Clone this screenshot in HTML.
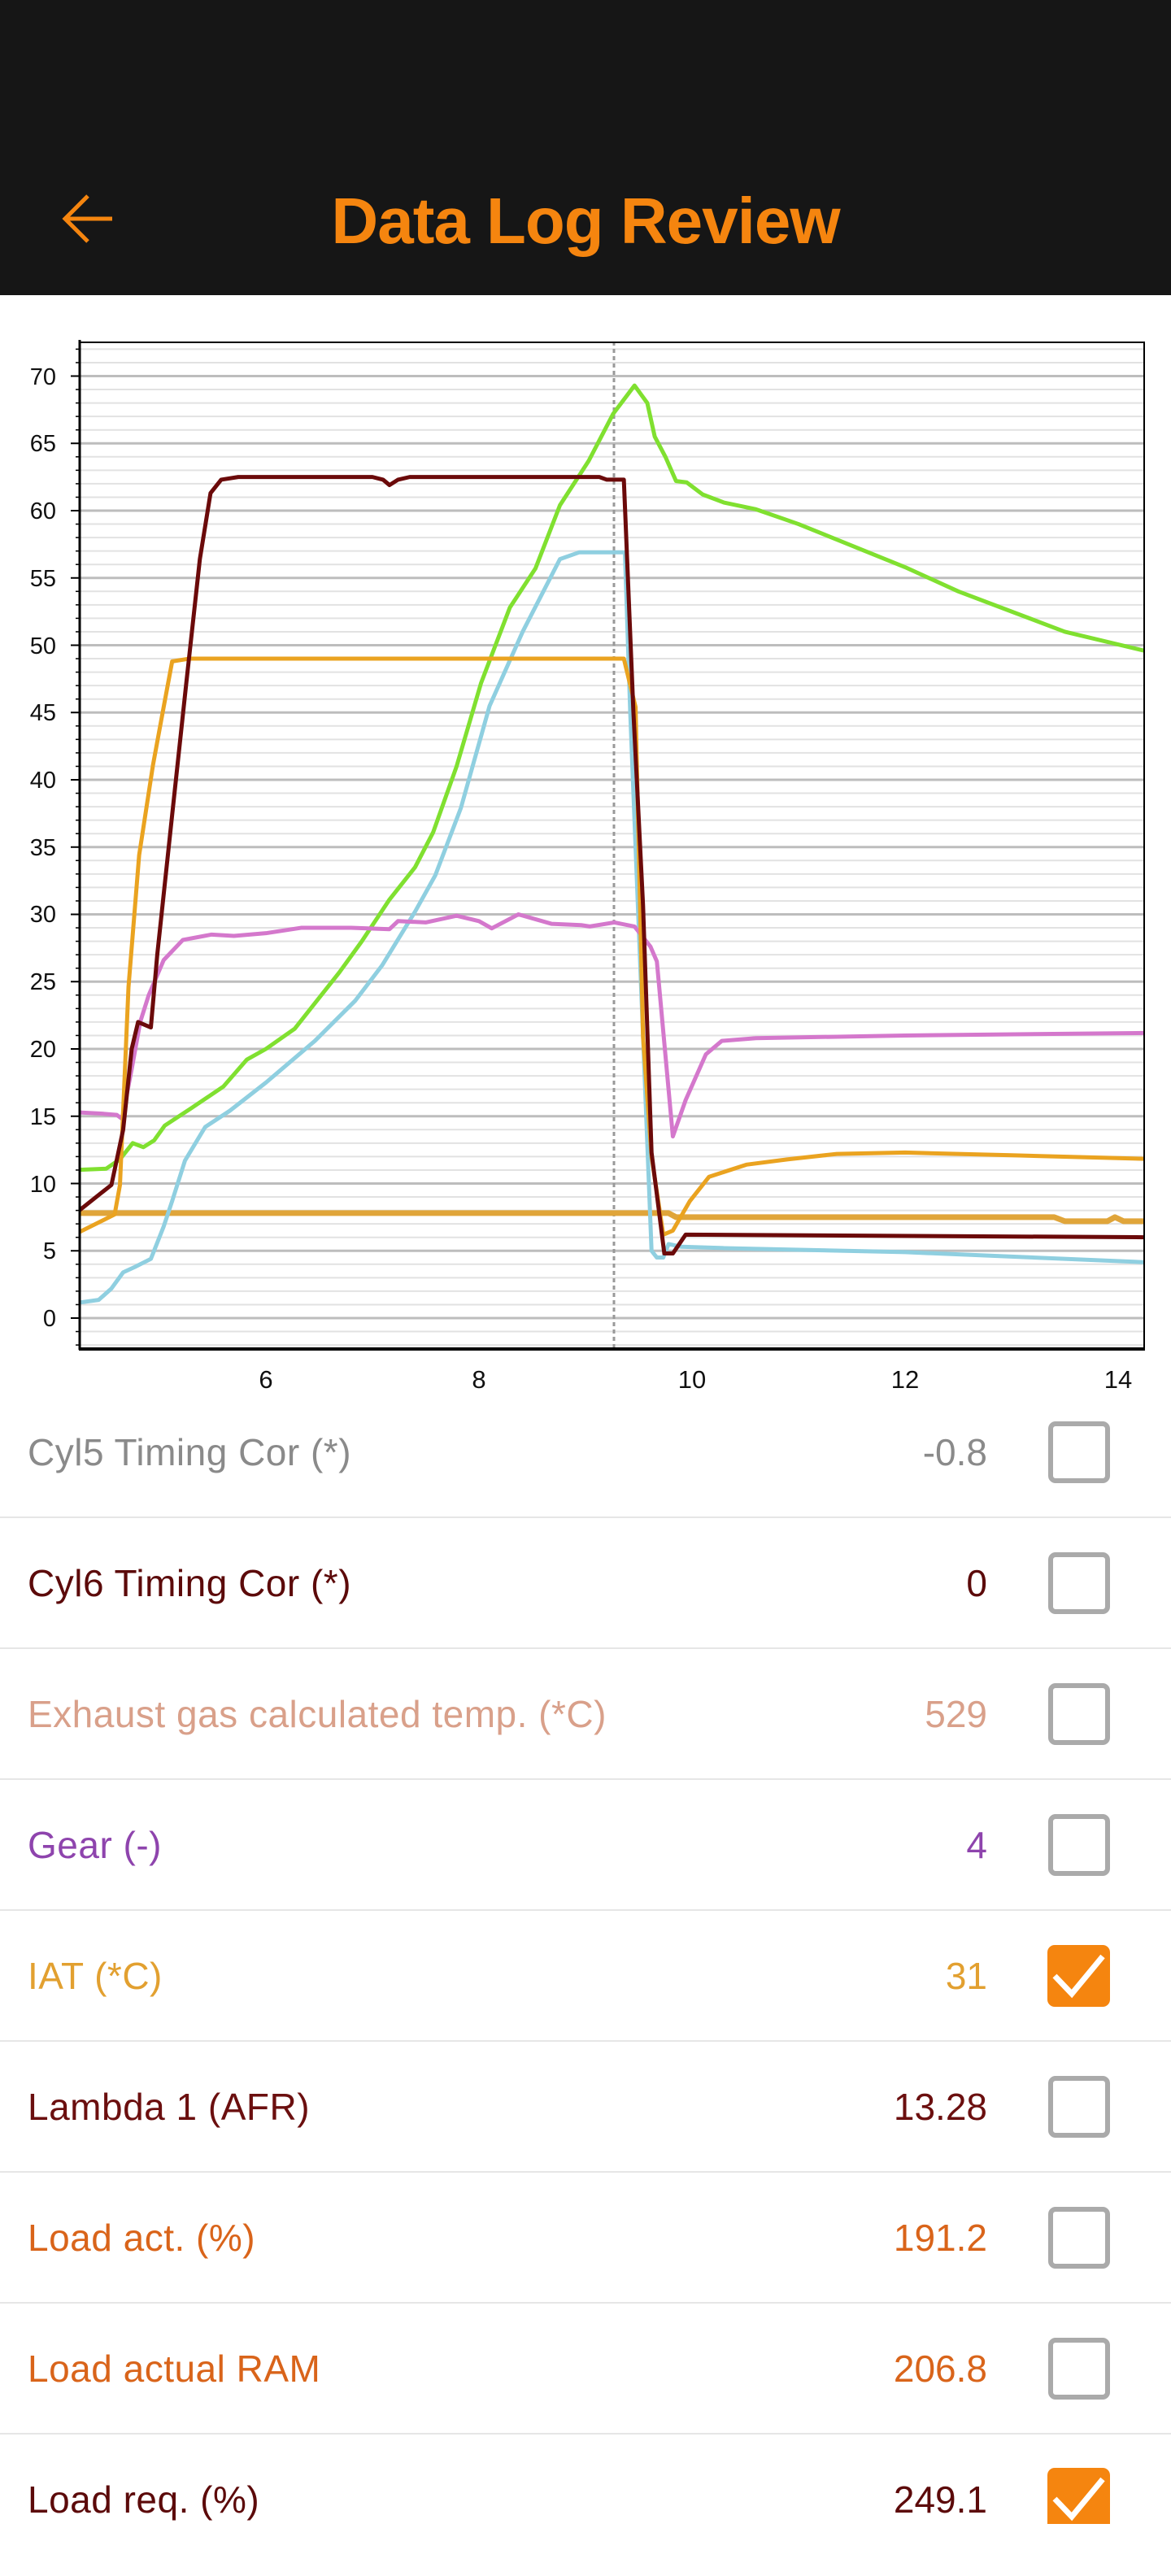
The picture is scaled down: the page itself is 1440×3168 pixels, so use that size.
<!DOCTYPE html>
<html><head><meta charset="utf-8"><style>
html,body{margin:0;padding:0;background:#fff;}
body{width:1440px;height:3168px;position:relative;overflow:hidden;font-family:"Liberation Sans",sans-serif;}
.hdr{position:absolute;left:0;top:0;width:1440px;height:363px;background:#161616;}
.title{position:absolute;left:0;width:1440px;top:222px;text-align:center;font-weight:bold;font-size:80px;letter-spacing:-1px;color:#F5850F;line-height:100px;}
.sep{position:absolute;left:0;width:1440px;height:2px;background:#e6e6e6;}
.lab{position:absolute;left:34px;font-size:46px;letter-spacing:0.5px;line-height:60px;white-space:nowrap;}
.val{position:absolute;right:226px;font-size:46px;line-height:60px;text-align:right;white-space:nowrap;}
.cb{position:absolute;left:1289px;width:64px;height:64px;border:6px solid #aaa;border-radius:9px;background:#fff;}
.cbon{position:absolute;left:1288px;width:77px;height:76px;border-radius:9px;background:#F5850F;}
</style></head><body>
<div class="hdr"></div>
<svg style="position:absolute;left:0;top:0" width="200" height="363"><polyline points="108,241 80,269 108,297" fill="none" stroke="#F5850F" stroke-width="5"/><line x1="80" y1="269" x2="138" y2="269" stroke="#F5850F" stroke-width="5"/></svg>
<div class="title">Data Log Review</div>

<svg style="position:absolute;left:0;top:363px" width="1440" height="1380" viewBox="0 363 1440 1380">
<defs><clipPath id="c"><rect x="98" y="420" width="1310" height="1239"/></clipPath></defs>
<g stroke="#e2e2e2" stroke-width="2">
<line x1="98" x2="1408" y1="1654.1" y2="1654.1"/><line x1="98" x2="1408" y1="1637.55" y2="1637.55"/>
<line x1="98" x2="1408" y1="1604.45" y2="1604.45"/><line x1="98" x2="1408" y1="1587.9" y2="1587.9"/><line x1="98" x2="1408" y1="1571.35" y2="1571.35"/><line x1="98" x2="1408" y1="1554.8" y2="1554.8"/>
<line x1="98" x2="1408" y1="1521.7" y2="1521.7"/><line x1="98" x2="1408" y1="1505.15" y2="1505.15"/><line x1="98" x2="1408" y1="1488.6" y2="1488.6"/><line x1="98" x2="1408" y1="1472.05" y2="1472.05"/>
<line x1="98" x2="1408" y1="1438.95" y2="1438.95"/><line x1="98" x2="1408" y1="1422.4" y2="1422.4"/><line x1="98" x2="1408" y1="1405.85" y2="1405.85"/><line x1="98" x2="1408" y1="1389.3" y2="1389.3"/>
<line x1="98" x2="1408" y1="1356.2" y2="1356.2"/><line x1="98" x2="1408" y1="1339.65" y2="1339.65"/><line x1="98" x2="1408" y1="1323.1" y2="1323.1"/><line x1="98" x2="1408" y1="1306.55" y2="1306.55"/>
<line x1="98" x2="1408" y1="1273.45" y2="1273.45"/><line x1="98" x2="1408" y1="1256.9" y2="1256.9"/><line x1="98" x2="1408" y1="1240.35" y2="1240.35"/><line x1="98" x2="1408" y1="1223.8" y2="1223.8"/>
<line x1="98" x2="1408" y1="1190.7" y2="1190.7"/><line x1="98" x2="1408" y1="1174.15" y2="1174.15"/><line x1="98" x2="1408" y1="1157.6" y2="1157.6"/><line x1="98" x2="1408" y1="1141.05" y2="1141.05"/>
<line x1="98" x2="1408" y1="1107.95" y2="1107.95"/><line x1="98" x2="1408" y1="1091.4" y2="1091.4"/><line x1="98" x2="1408" y1="1074.85" y2="1074.85"/><line x1="98" x2="1408" y1="1058.3" y2="1058.3"/>
<line x1="98" x2="1408" y1="1025.2" y2="1025.2"/><line x1="98" x2="1408" y1="1008.65" y2="1008.65"/><line x1="98" x2="1408" y1="992.1" y2="992.1"/><line x1="98" x2="1408" y1="975.55" y2="975.55"/>
<line x1="98" x2="1408" y1="942.45" y2="942.45"/><line x1="98" x2="1408" y1="925.9" y2="925.9"/><line x1="98" x2="1408" y1="909.35" y2="909.35"/><line x1="98" x2="1408" y1="892.8" y2="892.8"/>
<line x1="98" x2="1408" y1="859.7" y2="859.7"/><line x1="98" x2="1408" y1="843.15" y2="843.15"/><line x1="98" x2="1408" y1="826.6" y2="826.6"/><line x1="98" x2="1408" y1="810.05" y2="810.05"/>
<line x1="98" x2="1408" y1="776.95" y2="776.95"/><line x1="98" x2="1408" y1="760.4" y2="760.4"/><line x1="98" x2="1408" y1="743.85" y2="743.85"/><line x1="98" x2="1408" y1="727.3" y2="727.3"/>
<line x1="98" x2="1408" y1="694.2" y2="694.2"/><line x1="98" x2="1408" y1="677.65" y2="677.65"/><line x1="98" x2="1408" y1="661.1" y2="661.1"/><line x1="98" x2="1408" y1="644.55" y2="644.55"/>
<line x1="98" x2="1408" y1="611.45" y2="611.45"/><line x1="98" x2="1408" y1="594.9" y2="594.9"/><line x1="98" x2="1408" y1="578.35" y2="578.35"/><line x1="98" x2="1408" y1="561.8" y2="561.8"/>
<line x1="98" x2="1408" y1="528.7" y2="528.7"/><line x1="98" x2="1408" y1="512.15" y2="512.15"/><line x1="98" x2="1408" y1="495.6" y2="495.6"/><line x1="98" x2="1408" y1="479.05" y2="479.05"/>
<line x1="98" x2="1408" y1="445.95" y2="445.95"/><line x1="98" x2="1408" y1="429.4" y2="429.4"/>
</g>
<g stroke="#bdbdbd" stroke-width="3">
<line x1="98" x2="1408" y1="1621" y2="1621"/><line x1="98" x2="1408" y1="1538.25" y2="1538.25"/><line x1="98" x2="1408" y1="1455.5" y2="1455.5"/><line x1="98" x2="1408" y1="1372.75" y2="1372.75"/><line x1="98" x2="1408" y1="1290" y2="1290"/><line x1="98" x2="1408" y1="1207.25" y2="1207.25"/><line x1="98" x2="1408" y1="1124.5" y2="1124.5"/><line x1="98" x2="1408" y1="1041.75" y2="1041.75"/><line x1="98" x2="1408" y1="959" y2="959"/><line x1="98" x2="1408" y1="876.25" y2="876.25"/><line x1="98" x2="1408" y1="793.5" y2="793.5"/><line x1="98" x2="1408" y1="710.75" y2="710.75"/><line x1="98" x2="1408" y1="628" y2="628"/><line x1="98" x2="1408" y1="545.25" y2="545.25"/><line x1="98" x2="1408" y1="462.5" y2="462.5"/>
</g>
<g font-family="Liberation Sans, sans-serif" font-size="29" fill="#111" text-anchor="end">
<text x="69" y="1631">0</text><text x="69" y="1548">5</text><text x="69" y="1466">10</text><text x="69" y="1383">15</text><text x="69" y="1300">20</text><text x="69" y="1217">25</text><text x="69" y="1134">30</text><text x="69" y="1052">35</text><text x="69" y="969">40</text><text x="69" y="886">45</text><text x="69" y="804">50</text><text x="69" y="721">55</text><text x="69" y="638">60</text><text x="69" y="555">65</text><text x="69" y="473">70</text>
</g>
<g font-family="Liberation Sans, sans-serif" font-size="31" fill="#111" text-anchor="middle">
<text x="327" y="1707">6</text><text x="589" y="1707">8</text><text x="851" y="1707">10</text><text x="1113" y="1707">12</text><text x="1375" y="1707">14</text>
</g>
<line x1="755" y1="420" x2="755" y2="1659" stroke="#999" stroke-width="3" stroke-dasharray="5 4"/>
<g clip-path="url(#c)" fill="none" stroke-linejoin="round">
<g transform="matrix(131,0,0,-16.55,-459,1621)">
<polyline vector-effect="non-scaling-stroke" stroke="#E0A53A" stroke-width="7" points="4.2,7.8 9.78,7.8 9.85,7.5 13.4,7.5 13.5,7.2 13.9,7.2 13.97,7.5 14.05,7.2 14.4,7.2"/>
<polyline vector-effect="non-scaling-stroke" stroke="#8FCFE0" stroke-width="5" points="4.2,1.1 4.43,1.35 4.55,2.2 4.66,3.4 4.77,3.8 4.92,4.4 5.04,6.8 5.12,8.7 5.24,11.7 5.43,14.2 5.66,15.4 6.0,17.5 6.46,20.6 6.84,23.6 7.09,26.2 7.4,30.2 7.59,32.9 7.83,37.9 8.1,45.5 8.41,51 8.76,56.4 8.94,56.9 9.37,56.9 9.42,45 9.52,25 9.62,5 9.67,4.5 9.73,4.5 9.78,5.5 9.9,5.3 10.3,5.2 12,4.9 14.4,4.1"/>
<polyline vector-effect="non-scaling-stroke" stroke="#80E030" stroke-width="5" points="4.2,11 4.5,11.1 4.63,11.8 4.75,13 4.85,12.7 4.95,13.2 5.05,14.3 5.3,15.6 5.6,17.2 5.82,19.2 6.0,20 6.27,21.5 6.69,25.7 6.9,28 7.16,31.1 7.4,33.5 7.57,36.1 7.79,41 8.02,47.2 8.29,52.8 8.53,55.7 8.76,60.4 9.03,63.7 9.26,67.2 9.46,69.3 9.58,68 9.65,65.5 9.75,64 9.85,62.2 9.95,62.1 10.1,61.2 10.3,60.6 10.6,60.1 11,59 11.5,57.4 12,55.8 12.5,54 13,52.5 13.5,51 14.4,49.3"/>
<polyline vector-effect="non-scaling-stroke" stroke="#D478CC" stroke-width="5" points="4.2,15.3 4.45,15.2 4.6,15.1 4.65,14.8 4.74,18.5 4.82,22 4.9,24 5.04,26.6 5.22,28.1 5.49,28.5 5.7,28.4 6.0,28.6 6.33,29 6.8,29 7.16,28.9 7.24,29.5 7.5,29.4 7.79,29.9 8.0,29.5 8.12,28.96 8.37,30 8.68,29.3 8.96,29.2 9.04,29.1 9.27,29.4 9.46,29.1 9.61,27.6 9.67,26.5 9.82,13.5 9.94,16.2 10.13,19.6 10.28,20.6 10.6,20.8 12,21 14.4,21.2"/>
<polyline vector-effect="non-scaling-stroke" stroke="#EAA320" stroke-width="5" points="4.2,6.2 4.58,7.7 4.63,9.9 4.71,24.6 4.81,34.4 4.94,41.1 5.04,45.4 5.12,48.8 5.28,49 7,49 8,49 9.36,49 9.47,45.4 9.54,20.9 9.62,12 9.73,6.2 9.82,6.5 9.98,8.7 10.16,10.5 10.51,11.4 10.9,11.8 11.36,12.2 12,12.3 13,12.1 14.4,11.8"/>
<polyline vector-effect="non-scaling-stroke" stroke="#6B0A0A" stroke-width="5" points="4.2,7.7 4.55,9.9 4.66,14 4.74,20 4.8,22 4.92,21.6 4.98,27 5.12,37.4 5.25,47 5.38,56.4 5.48,61.3 5.58,62.3 5.74,62.5 7.0,62.5 7.1,62.3 7.16,61.9 7.24,62.3 7.35,62.5 9.13,62.5 9.2,62.3 9.36,62.3 9.45,45 9.54,30.7 9.62,12.3 9.74,4.8 9.82,4.8 9.94,6.2 14.4,6.0"/>
</g>
</g>
<g stroke="#000">
<line x1="98" y1="421" x2="1408" y2="421" stroke-width="2"/>
<line x1="1407" y1="420" x2="1407" y2="1659" stroke-width="2"/>
<line x1="98" y1="418" x2="98" y2="1660" stroke-width="3"/>
<line x1="97" y1="1659" x2="1408" y2="1659" stroke-width="4"/>
</g>
<g stroke="#000" stroke-width="2">
<line x1="87" x2="98" y1="1621" y2="1621"/><line x1="87" x2="98" y1="1538.25" y2="1538.25"/><line x1="87" x2="98" y1="1455.5" y2="1455.5"/><line x1="87" x2="98" y1="1372.75" y2="1372.75"/><line x1="87" x2="98" y1="1290" y2="1290"/><line x1="87" x2="98" y1="1207.25" y2="1207.25"/><line x1="87" x2="98" y1="1124.5" y2="1124.5"/><line x1="87" x2="98" y1="1041.75" y2="1041.75"/><line x1="87" x2="98" y1="959" y2="959"/><line x1="87" x2="98" y1="876.25" y2="876.25"/><line x1="87" x2="98" y1="793.5" y2="793.5"/><line x1="87" x2="98" y1="710.75" y2="710.75"/><line x1="87" x2="98" y1="628" y2="628"/><line x1="87" x2="98" y1="545.25" y2="545.25"/><line x1="87" x2="98" y1="462.5" y2="462.5"/>
</g>
<g stroke="#000" stroke-width="1.5">
<line x1="93" x2="98" y1="1654.1" y2="1654.1"/><line x1="93" x2="98" y1="1637.55" y2="1637.55"/><line x1="93" x2="98" y1="1604.45" y2="1604.45"/><line x1="93" x2="98" y1="1587.9" y2="1587.9"/><line x1="93" x2="98" y1="1571.35" y2="1571.35"/><line x1="93" x2="98" y1="1554.8" y2="1554.8"/><line x1="93" x2="98" y1="1521.7" y2="1521.7"/><line x1="93" x2="98" y1="1505.15" y2="1505.15"/><line x1="93" x2="98" y1="1488.6" y2="1488.6"/><line x1="93" x2="98" y1="1472.05" y2="1472.05"/><line x1="93" x2="98" y1="1438.95" y2="1438.95"/><line x1="93" x2="98" y1="1422.4" y2="1422.4"/><line x1="93" x2="98" y1="1405.85" y2="1405.85"/><line x1="93" x2="98" y1="1389.3" y2="1389.3"/><line x1="93" x2="98" y1="1356.2" y2="1356.2"/><line x1="93" x2="98" y1="1339.65" y2="1339.65"/><line x1="93" x2="98" y1="1323.1" y2="1323.1"/><line x1="93" x2="98" y1="1306.55" y2="1306.55"/><line x1="93" x2="98" y1="1273.45" y2="1273.45"/><line x1="93" x2="98" y1="1256.9" y2="1256.9"/><line x1="93" x2="98" y1="1240.35" y2="1240.35"/><line x1="93" x2="98" y1="1223.8" y2="1223.8"/><line x1="93" x2="98" y1="1190.7" y2="1190.7"/><line x1="93" x2="98" y1="1174.15" y2="1174.15"/><line x1="93" x2="98" y1="1157.6" y2="1157.6"/><line x1="93" x2="98" y1="1141.05" y2="1141.05"/><line x1="93" x2="98" y1="1107.95" y2="1107.95"/><line x1="93" x2="98" y1="1091.4" y2="1091.4"/><line x1="93" x2="98" y1="1074.85" y2="1074.85"/><line x1="93" x2="98" y1="1058.3" y2="1058.3"/><line x1="93" x2="98" y1="1025.2" y2="1025.2"/><line x1="93" x2="98" y1="1008.65" y2="1008.65"/><line x1="93" x2="98" y1="992.1" y2="992.1"/><line x1="93" x2="98" y1="975.55" y2="975.55"/><line x1="93" x2="98" y1="942.45" y2="942.45"/><line x1="93" x2="98" y1="925.9" y2="925.9"/><line x1="93" x2="98" y1="909.35" y2="909.35"/><line x1="93" x2="98" y1="892.8" y2="892.8"/><line x1="93" x2="98" y1="859.7" y2="859.7"/><line x1="93" x2="98" y1="843.15" y2="843.15"/><line x1="93" x2="98" y1="826.6" y2="826.6"/><line x1="93" x2="98" y1="810.05" y2="810.05"/><line x1="93" x2="98" y1="776.95" y2="776.95"/><line x1="93" x2="98" y1="760.4" y2="760.4"/><line x1="93" x2="98" y1="743.85" y2="743.85"/><line x1="93" x2="98" y1="727.3" y2="727.3"/><line x1="93" x2="98" y1="694.2" y2="694.2"/><line x1="93" x2="98" y1="677.65" y2="677.65"/><line x1="93" x2="98" y1="661.1" y2="661.1"/><line x1="93" x2="98" y1="644.55" y2="644.55"/><line x1="93" x2="98" y1="611.45" y2="611.45"/><line x1="93" x2="98" y1="594.9" y2="594.9"/><line x1="93" x2="98" y1="578.35" y2="578.35"/><line x1="93" x2="98" y1="561.8" y2="561.8"/><line x1="93" x2="98" y1="528.7" y2="528.7"/><line x1="93" x2="98" y1="512.15" y2="512.15"/><line x1="93" x2="98" y1="495.6" y2="495.6"/><line x1="93" x2="98" y1="479.05" y2="479.05"/><line x1="93" x2="98" y1="445.95" y2="445.95"/><line x1="93" x2="98" y1="429.4" y2="429.4"/>
</g>
</svg>

<div class="lab" style="top:1756px;color:#8a8a8a">Cyl5 Timing Cor (*)</div><div class="val" style="top:1756px;color:#8a8a8a">-0.8</div><div class="cb" style="top:1748px"></div>
<div class="sep" style="top:1865px"></div>
<div class="lab" style="top:1917px;color:#5C0A0A">Cyl6 Timing Cor (*)</div><div class="val" style="top:1917px;color:#5C0A0A">0</div><div class="cb" style="top:1909px"></div>
<div class="sep" style="top:2026px"></div>
<div class="lab" style="top:2078px;color:#D9A08A">Exhaust gas calculated temp. (*C)</div><div class="val" style="top:2078px;color:#D9A08A">529</div><div class="cb" style="top:2070px"></div>
<div class="sep" style="top:2187px"></div>
<div class="lab" style="top:2239px;color:#8E44AD">Gear (-)</div><div class="val" style="top:2239px;color:#8E44AD">4</div><div class="cb" style="top:2231px"></div>
<div class="sep" style="top:2348px"></div>
<div class="lab" style="top:2400px;color:#E2A030">IAT (*C)</div><div class="val" style="top:2400px;color:#E2A030">31</div>
<div class="cbon" style="top:2392px"><svg width="77" height="76"><polyline points="9,38 30,60 68,14" fill="none" stroke="#fff" stroke-width="7"/></svg></div>
<div class="sep" style="top:2509px"></div>
<div class="lab" style="top:2561px;color:#6B0F0F">Lambda 1 (AFR)</div><div class="val" style="top:2561px;color:#6B0F0F">13.28</div><div class="cb" style="top:2553px"></div>
<div class="sep" style="top:2670px"></div>
<div class="lab" style="top:2722px;color:#D9641A">Load act. (%)</div><div class="val" style="top:2722px;color:#D9641A">191.2</div><div class="cb" style="top:2714px"></div>
<div class="sep" style="top:2831px"></div>
<div class="lab" style="top:2883px;color:#D9641A">Load actual RAM</div><div class="val" style="top:2883px;color:#D9641A">206.8</div><div class="cb" style="top:2875px"></div>
<div class="sep" style="top:2992px"></div>
<div class="lab" style="top:3044px;color:#5C0A0A">Load req. (%)</div><div class="val" style="top:3044px;color:#5C0A0A">249.1</div>
<div class="cbon" style="top:3035px;height:69px;border-radius:9px 9px 0 0"><svg width="77" height="69"><polyline points="9,38 30,60 68,14" fill="none" stroke="#fff" stroke-width="7"/></svg></div>
</body></html>
